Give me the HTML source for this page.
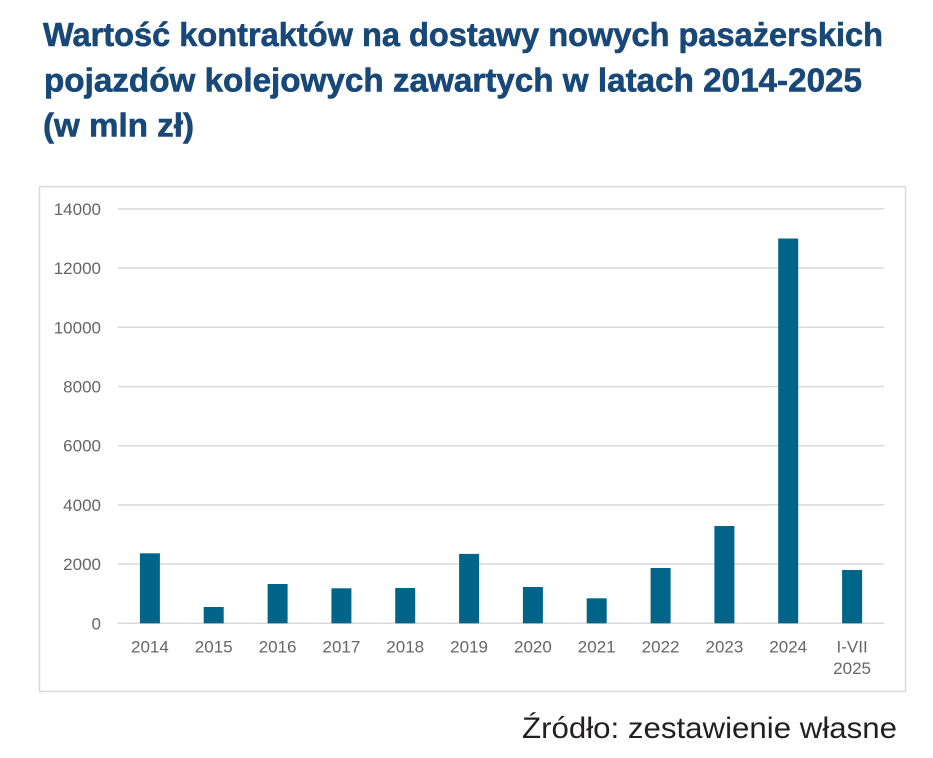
<!DOCTYPE html>
<html>
<head>
<meta charset="utf-8">
<style>
html,body{margin:0;padding:0;background:#fff;}
svg{display:block;}
</style>
</head>
<body>
<svg width="933" height="758" viewBox="0 0 933 758" xmlns="http://www.w3.org/2000/svg">
  <rect x="0" y="0" width="933" height="758" fill="#ffffff"/>
  <!-- Title -->
  <g font-family="'Liberation Sans', sans-serif" font-weight="bold" font-size="33" fill="#184878" stroke="#184878" stroke-width="0.6">
    <text x="43" y="46" textLength="840" lengthAdjust="spacingAndGlyphs">Wartość kontraktów na dostawy nowych pasażerskich</text>
    <text x="44" y="91.5" textLength="818" lengthAdjust="spacingAndGlyphs">pojazdów kolejowych zawartych w latach 2014-2025</text>
    <text x="43" y="136.5" textLength="151" lengthAdjust="spacingAndGlyphs">(w mln zł)</text>
  </g>
  <!-- Chart frame -->
  <rect x="39.5" y="186.5" width="866" height="505" fill="#ffffff" stroke="#d9d9d9" stroke-width="1.5"/>
  <!-- Gridlines -->
  <g stroke="#d9d9d9" stroke-width="1.5">
    <line x1="118" y1="623.3" x2="884" y2="623.3"/>
    <line x1="118" y1="564.1" x2="884" y2="564.1"/>
    <line x1="118" y1="504.9" x2="884" y2="504.9"/>
    <line x1="118" y1="445.7" x2="884" y2="445.7"/>
    <line x1="118" y1="386.5" x2="884" y2="386.5"/>
    <line x1="118" y1="327.3" x2="884" y2="327.3"/>
    <line x1="118" y1="268.1" x2="884" y2="268.1"/>
    <line x1="118" y1="208.9" x2="884" y2="208.9"/>
  </g>
  <!-- Y labels -->
  <g font-family="'Liberation Sans', sans-serif" font-size="17" fill="#666666" text-anchor="end">
    <text x="101" y="629.3">0</text>
    <text x="101" y="570.1">2000</text>
    <text x="101" y="510.9">4000</text>
    <text x="101" y="451.7">6000</text>
    <text x="101" y="392.5">8000</text>
    <text x="101" y="333.3">10000</text>
    <text x="101" y="274.1">12000</text>
    <text x="101" y="214.9">14000</text>
  </g>
  <!-- Bars -->
  <g fill="#006589">
    <rect x="139.9" y="553.3" width="20" height="70"/>
    <rect x="203.7" y="607.0" width="20" height="16.3"/>
    <rect x="267.6" y="584.0" width="20" height="39.3"/>
    <rect x="331.4" y="588.3" width="20" height="35"/>
    <rect x="395.2" y="588.0" width="20" height="35.3"/>
    <rect x="459.1" y="553.9" width="20" height="69.4"/>
    <rect x="522.9" y="587.0" width="20" height="36.3"/>
    <rect x="586.7" y="598.3" width="20" height="25"/>
    <rect x="650.6" y="568.0" width="20" height="55.3"/>
    <rect x="714.4" y="526.0" width="20" height="97.3"/>
    <rect x="778.2" y="238.5" width="20" height="384.8"/>
    <rect x="842.1" y="570.0" width="20" height="53.3"/>
  </g>
  <!-- X labels -->
  <g font-family="'Liberation Sans', sans-serif" font-size="17" fill="#666666" text-anchor="middle">
    <text x="149.9" y="652.5">2014</text>
    <text x="213.7" y="652.5">2015</text>
    <text x="277.6" y="652.5">2016</text>
    <text x="341.4" y="652.5">2017</text>
    <text x="405.2" y="652.5">2018</text>
    <text x="469.1" y="652.5">2019</text>
    <text x="532.9" y="652.5">2020</text>
    <text x="596.7" y="652.5">2021</text>
    <text x="660.6" y="652.5">2022</text>
    <text x="724.4" y="652.5">2023</text>
    <text x="788.2" y="652.5">2024</text>
    <text x="852.1" y="652.5">I-VII</text>
    <text x="852.1" y="674">2025</text>
  </g>
  <!-- Source -->
  <text x="522" y="738" font-family="'Liberation Sans', sans-serif" font-size="30" fill="#231f20" textLength="375" lengthAdjust="spacingAndGlyphs">Źródło: zestawienie własne</text>
</svg>
</body>
</html>
